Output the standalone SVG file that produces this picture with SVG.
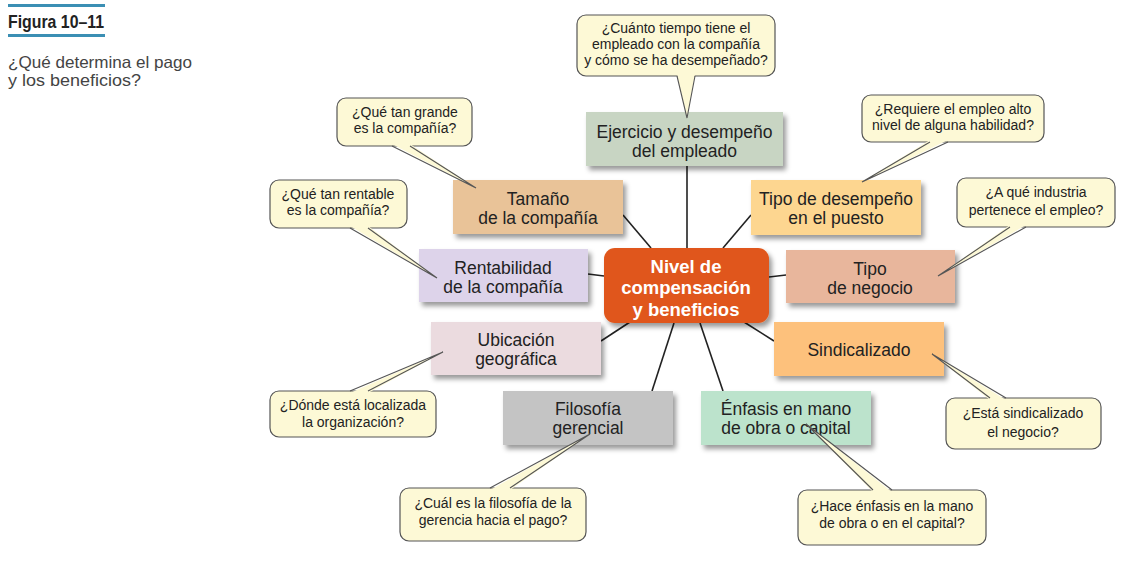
<svg xmlns="http://www.w3.org/2000/svg" width="1137" height="571" viewBox="0 0 1137 571">
<defs>
<filter id="sh" x="-10%" y="-10%" width="130%" height="140%">
<feDropShadow dx="3" dy="4" stdDeviation="2.5" flood-color="#000" flood-opacity="0.4"/>
</filter>
<style>
.t{font-family:"Liberation Sans",Arial,sans-serif;text-anchor:middle;fill:#222}
.n{font-size:17.5px}
.c{font-size:14px;fill:#222}
.w{fill:#fff;font-size:18.5px;font-weight:bold}
.co{fill:#fdf9d6;stroke:#555;stroke-width:1.2}
.tf{fill:#fdf9d6;stroke:none}
.tl{fill:none;stroke:#555;stroke-width:1.1}
.cn line{stroke:#222;stroke-width:1.6}
.hd{font-family:"Liberation Sans Narrow","Liberation Sans",sans-serif}
</style>
</defs>
<rect width="1137" height="571" fill="#fff"/>
<g id="title">
<rect x="8" y="4" width="97" height="3" fill="#3b8fb4"/>
<text class="hd" x="8" y="28" font-weight="bold" font-size="19" fill="#222" textLength="96" lengthAdjust="spacingAndGlyphs">Figura 10–11</text>
<rect x="8" y="34" width="97" height="3" fill="#3b8fb4"/>
<text class="hd" x="8" y="68" font-size="16.5" fill="#444" textLength="184" lengthAdjust="spacingAndGlyphs">¿Qué determina el pago</text>
<text class="hd" x="8" y="86" font-size="16.5" fill="#444" textLength="133" lengthAdjust="spacingAndGlyphs">y los beneficios?</text>
</g>
<g id="connectors" class="cn">
<line x1="687" y1="166" x2="687" y2="248"/>
<line x1="623" y1="215" x2="651" y2="248"/>
<line x1="751" y1="215" x2="723" y2="248"/>
<line x1="588" y1="274" x2="604" y2="276"/>
<line x1="769" y1="277" x2="786" y2="275"/>
<line x1="601" y1="341" x2="630" y2="322"/>
<line x1="744" y1="322" x2="774" y2="341"/>
<line x1="674" y1="323" x2="652" y2="391"/>
<line x1="700" y1="323" x2="723" y2="391"/>
</g>
<g id="n-ejercicio"><rect x="586" y="112" width="197" height="54" fill="#c8d5c3" filter="url(#sh)"/><text class="t n" x="684.5" y="138">Ejercicio y desempeño</text><text class="t n" x="684.5" y="157">del empleado</text></g>
<g id="n-tamano"><rect x="453" y="180" width="170" height="54" fill="#e9c398" filter="url(#sh)"/><text class="t n" x="538" y="205">Tamaño</text><text class="t n" x="538" y="224">de la compañía</text></g>
<g id="n-tipodesempeno"><rect x="751" y="180" width="170" height="55" fill="#fdd690" filter="url(#sh)"/><text class="t n" x="836" y="205">Tipo de desempeño</text><text class="t n" x="836" y="224">en el puesto</text></g>
<g id="n-rentabilidad"><rect x="419" y="249" width="169" height="53" fill="#ddd3ea" filter="url(#sh)"/><text class="t n" x="503" y="274">Rentabilidad</text><text class="t n" x="503" y="293">de la compañía</text></g>
<g id="n-centro"><rect x="604" y="248" width="165" height="75" rx="11" fill="#e0561a" filter="url(#sh)"/><text class="t w" x="686" y="273">Nivel de</text><text class="t w" x="686" y="294">compensación</text><text class="t w" x="686" y="316">y beneficios</text></g>
<g id="n-tiponegocio"><rect x="786" y="250" width="169" height="53" fill="#e8b69c" filter="url(#sh)"/><text class="t n" x="870" y="275">Tipo</text><text class="t n" x="870" y="294">de negocio</text></g>
<g id="n-ubicacion"><rect x="431" y="322" width="170" height="53" fill="#ebdbdf" filter="url(#sh)"/><text class="t n" x="516" y="346">Ubicación</text><text class="t n" x="516" y="365">geográfica</text></g>
<g id="n-sindicalizado"><rect x="774" y="322" width="170" height="54" fill="#fdc17c" filter="url(#sh)"/><text class="t n" x="859" y="356">Sindicalizado</text></g>
<g id="n-filosofia"><rect x="503" y="391" width="170" height="54" fill="#c4c4c4" filter="url(#sh)"/><text class="t n" x="588" y="415">Filosofía</text><text class="t n" x="588" y="434">gerencial</text></g>
<g id="n-enfasis"><rect x="701" y="391" width="170" height="54" fill="#bce3cc" filter="url(#sh)"/><text class="t n" x="786" y="415">Énfasis en mano</text><text class="t n" x="786" y="434">de obra o capital</text></g>
<g id="c-tiempo"><rect class="co" x="577" y="15" width="198" height="61" rx="9"/><polygon class="tf" points="677,74 695,74 687,118"/><polyline class="tl" points="677,76 687,118 695,76"/><text class="t c" x="676" y="33">¿Cuánto tiempo tiene el</text><text class="t c" x="676" y="49">empleado con la compañía</text><text class="t c" x="676" y="65">y cómo se ha desempeñado?</text></g>
<g id="c-grande"><rect class="co" x="337" y="98" width="135" height="48" rx="9"/><polygon class="tf" points="392,144 410,144 476,188"/><polyline class="tl" points="392,146 476,188 410,146"/><text class="t c" x="405" y="117">¿Qué tan grande</text><text class="t c" x="405" y="133">es la compañía?</text></g>
<g id="c-rentable"><rect class="co" x="270" y="180" width="137" height="48" rx="9"/><polygon class="tf" points="350,226 368,226 437,278"/><polyline class="tl" points="350,228 437,278 368,228"/><text class="t c" x="338" y="199">¿Qué tan rentable</text><text class="t c" x="338" y="215">es la compañía?</text></g>
<g id="c-requiere"><rect class="co" x="862" y="95" width="182" height="47" rx="9"/><polygon class="tf" points="930,140 948,140 862,182"/><polyline class="tl" points="930,142 862,182 948,142"/><text class="t c" x="953" y="114">¿Requiere el empleo alto</text><text class="t c" x="953" y="130">nivel de alguna habilidad?</text></g>
<g id="c-industria"><rect class="co" x="957" y="178" width="158" height="49" rx="9"/><polygon class="tf" points="1010,225 1026,225 938,276"/><polyline class="tl" points="1010,227 938,276 1026,227"/><text class="t c" x="1036" y="197">¿A qué industria</text><text class="t c" x="1036" y="215">pertenece el empleo?</text></g>
<g id="c-donde"><rect class="co" x="270" y="391" width="166" height="46" rx="9"/><polygon class="tf" points="350,393 368,393 443,352"/><polyline class="tl" points="350,391 443,352 368,391"/><text class="t c" x="353" y="410">¿Dónde está localizada</text><text class="t c" x="353" y="427">la organización?</text></g>
<g id="c-sindicalizado"><rect class="co" x="946" y="398" width="155" height="51" rx="9"/><polygon class="tf" points="990,400 1006,400 932,354"/><polyline class="tl" points="990,398 932,354 1006,398"/><text class="t c" x="1023" y="418">¿Está sindicalizado</text><text class="t c" x="1023" y="437">el negocio?</text></g>
<g id="c-filosofia"><rect class="co" x="400" y="488" width="186" height="53" rx="9"/><polygon class="tf" points="490,490 510,490 590,434"/><polyline class="tl" points="490,488 590,434 510,488"/><text class="t c" x="493" y="508">¿Cuál es la filosofía de la</text><text class="t c" x="493" y="525">gerencia hacia el pago?</text></g>
<g id="c-enfasis"><rect class="co" x="798" y="490" width="188" height="55" rx="9"/><polygon class="tf" points="873,492 892,492 806,424"/><polyline class="tl" points="873,490 806,424 892,490"/><text class="t c" x="892" y="511">¿Hace énfasis en la mano</text><text class="t c" x="892" y="528">de obra o en el capital?</text></g>
</svg>
